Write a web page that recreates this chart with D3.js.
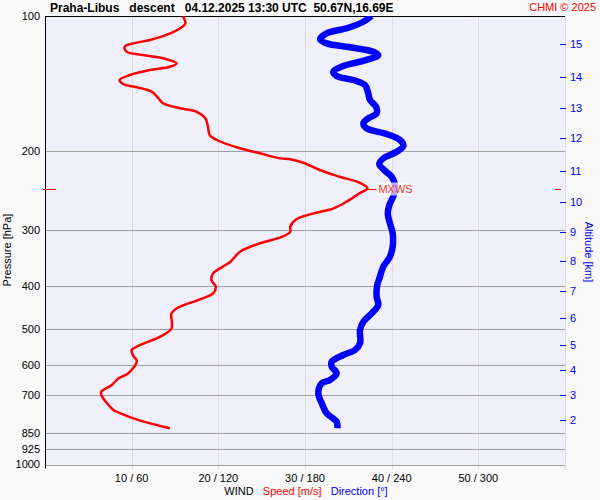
<!DOCTYPE html>
<html>
<head>
<meta charset="utf-8">
<script src="https://cdn.jsdelivr.net/npm/d3@7"></script>
<style>
  body { margin: 0; background: #f9f9f9; }
  svg { display: block; font-family: "Liberation Sans", Arial, sans-serif; }
</style>
</head>
<body>
<div id="chart"></div>
<script>
// pressure levels for the left axis and grid
const pressureTicks = [100, 200, 300, 400, 500, 600, 700, 850, 925, 1000]
// altitude ticks (km) and the pressure at which each sits
const altKm = [15, 14, 13, 12, 11, 10, 9, 8, 7, 6, 5, 4, 3, 2]
const altP = [115.6, 136.6, 160.1, 187.4, 221.6, 259.4, 302.7, 351.3, 409.8, 470.7, 541.5, 615.6, 699.8, 795.8]
// bottom ticks: speed [m/s] / direction [deg]
const speedTicks = [10, 20, 30, 40, 50]
const dirTicks = [60, 120, 180, 240, 300]

// wind speed profile
const speedP = [100, 103.8, 106.5, 110.2, 113.1, 115.1, 117.1, 120.1, 122.2, 124.2, 127.5, 129.8, 132.0, 135.4, 138.9, 141.8, 144.2, 147.5, 152.6, 156.5, 160.6, 163.5, 169.1, 176.5, 184.2, 189.0, 197.2, 202.4, 207.7, 208.7, 212.4, 220.5, 228.2, 235.4, 242.2, 248.5, 259.4, 268.4, 275.4, 284.0, 295.0, 302.7, 310.5, 321.2, 335.4, 353.1, 374.8, 387.9, 401.4, 415.2, 428.2, 448.5, 460.2, 496.9, 518.8, 541.4, 555.5, 572.9, 587.8, 626.2, 642.5, 664.9, 688.2, 699.9, 755.8, 766.0, 798.5, 830.3]
const speedV = [15.9, 16.2, 15.6, 14.0, 12.1, 10.2, 9.2, 9.4, 11.3, 13.6, 15.2, 14.4, 12.1, 9.8, 8.6, 9.0, 10.6, 12.3, 13.1, 13.6, 15.6, 17.5, 18.5, 18.8, 19.0, 19.8, 22.5, 24.8, 27.1, 28.3, 29.8, 31.7, 34.0, 36.3, 37.2, 36.3, 34.8, 33.3, 31.0, 29.0, 28.3, 28.3, 27.4, 24.8, 22.5, 21.4, 19.4, 19.2, 19.7, 19.4, 17.9, 15.2, 14.6, 14.6, 13.3, 11.0, 10.0, 10.2, 10.6, 9.6, 8.5, 7.7, 6.5, 6.5, 7.9, 8.5, 11.0, 14.4]

// wind direction profile
const dirP = [100, 103.0, 106.5, 109.3, 112.7, 115.1, 117.4, 120.1, 122.2, 125.3, 129.3, 133.1, 136.1, 138.9, 142.5, 148.7, 153.9, 159.3, 164.8, 169.1, 173.5, 178.0, 183.3, 189.0, 194.9, 200.7, 207.7, 213.8, 219.7, 228.2, 238.2, 250.6, 264.0, 275.4, 289.9, 305.2, 326.8, 344.2, 362.2, 381.4, 398.0, 422.6, 440.9, 460.2, 480.4, 501.3, 536.7, 555.5, 570.0, 589.9, 605.4, 626.2, 648.2, 659.1, 693.8, 730.5, 768.8, 802.6, 830.3]
const dirV = [226.0, 220.4, 208.9, 195.0, 190.4, 195.0, 211.2, 227.3, 230.7, 222.7, 206.5, 199.6, 201.9, 213.4, 221.5, 223.8, 225.0, 229.2, 229.6, 223.8, 220.4, 222.7, 236.6, 245.8, 248.1, 243.5, 234.2, 231.4, 234.2, 240.0, 242.3, 241.5, 238.4, 237.3, 238.8, 240.7, 240.7, 238.8, 234.2, 231.9, 230.0, 229.6, 230.7, 226.2, 220.4, 218.1, 218.1, 214.6, 206.5, 198.5, 198.5, 201.9, 197.3, 191.6, 189.2, 191.6, 195.0, 201.9, 202.4]

// max wind
const mxwsP = 242.5
const mxwsSpeed = 37.2

const width = 600, height = 500
const mLeft = 45, mRight = 565, mTop = 16, mBottom = 464.5

const svg = d3.select('#chart').append('svg')
    .attr('width', width)
    .attr('height', height)

const y = d3.scaleLog().domain([100, 1000]).range([mTop, mBottom])
const xs = d3.scaleLinear().domain([0, 60]).range([mLeft, mRight])
const xd = d3.scaleLinear().domain([0, 360]).range([mLeft, mRight])

svg.append('rect')
    .attr('x', mLeft).attr('y', mTop)
    .attr('width', mRight - mLeft).attr('height', mBottom - mTop)
    .attr('fill', '#f0f0fc')

// vertical grid
svg.append('g')
    .selectAll('line')
    .data(speedTicks)
    .join('line')
    .attr('x1', d => Math.round(xs(d)) + 0.5).attr('x2', d => Math.round(xs(d)) + 0.5)
    .attr('y1', mTop).attr('y2', mBottom + 5)
    .attr('stroke', '#dcdcdc')
svg.append('line')
    .attr('x1', mRight + 0.5).attr('x2', mRight + 0.5)
    .attr('y1', mTop).attr('y2', mBottom + 5)
    .attr('stroke', '#dcdcdc')

// horizontal grid
svg.append('g')
    .selectAll('line')
    .data(pressureTicks.slice(1))
    .join('line')
    .attr('x1', mLeft).attr('x2', mRight)
    .attr('y1', d => Math.round(y(d)) + 0.5).attr('y2', d => Math.round(y(d)) + 0.5)
    .attr('stroke', '#a0a0a0')

// frame
svg.append('line')
    .attr('x1', mLeft).attr('x2', mRight)
    .attr('y1', mTop + 0.5).attr('y2', mTop + 0.5)
    .attr('stroke', '#000')
svg.append('line')
    .attr('x1', mLeft + 0.5).attr('x2', mLeft + 0.5)
    .attr('y1', mTop).attr('y2', mBottom + 4)
    .attr('stroke', '#000')

// left labels
svg.append('g')
    .attr('font-size', 11)
    .attr('text-anchor', 'end')
    .selectAll('text')
    .data(pressureTicks)
    .join('text')
    .attr('x', 40)
    .attr('y', d => y(d))
    .attr('dy', '0.35em')
    .attr('fill', '#000')
    .text(d => d)

// bottom labels
svg.append('g')
    .attr('font-size', 11)
    .attr('text-anchor', 'middle')
    .selectAll('text')
    .data(speedTicks)
    .join('text')
    .attr('x', d => xs(d))
    .attr('y', 478)
    .attr('dy', '0.35em')
    .text((d, i) => `${d} / ${dirTicks[i]}`)

// altitude axis
const alt = svg.append('g')
alt.selectAll('line')
    .data(altP)
    .join('line')
    .attr('x1', mRight - 5).attr('x2', mRight + 1)
    .attr('y1', d => Math.round(y(d)) + 0.5).attr('y2', d => Math.round(y(d)) + 0.5)
    .attr('stroke', '#0000ff')
alt.selectAll('text')
    .data(altP)
    .join('text')
    .attr('x', 570)
    .attr('y', d => y(d))
    .attr('dy', '0.35em')
    .attr('font-size', 11)
    .attr('fill', '#0000ff')
    .text((d, i) => altKm[i])

// axis titles
svg.append('text')
    .attr('transform', `translate(11,250) rotate(-90)`)
    .attr('text-anchor', 'middle')
    .attr('font-size', 11)
    .text('Pressure [hPa]')
svg.append('text')
    .attr('transform', `translate(585,252) rotate(90)`)
    .attr('text-anchor', 'middle')
    .attr('font-size', 11)
    .attr('fill', '#0000ff')
    .text('Altitude [km]')

const legend = svg.append('text')
    .attr('x', 306)
    .attr('y', 491)
    .attr('dy', '0.35em')
    .attr('text-anchor', 'middle')
    .attr('font-size', 11)
    .style('white-space', 'pre')
legend.append('tspan').attr('fill', '#000').text('WIND   ')
legend.append('tspan').attr('fill', '#ff0000').text('Speed [m/s]   ')
legend.append('tspan').attr('fill', '#0000ff').text('Direction [°]')

// title
svg.append('text')
    .attr('x', 50)
    .attr('y', 12)
    .attr('font-size', 12)
    .attr('font-weight', 'bold')
    .style('white-space', 'pre')
    .text('Praha-Libus   descent   04.12.2025 13:30 UTC  50.67N,16.69E')
svg.append('text')
    .attr('x', 596)
    .attr('y', 11)
    .attr('text-anchor', 'end')
    .attr('font-size', 11)
    .attr('fill', '#ff0000')
    .text('CHMI © 2025')

// profiles
const clip = svg.append('clipPath').attr('id', 'plotclip')
clip.append('rect').attr('x', mLeft).attr('y', mTop).attr('width', mRight - mLeft).attr('height', mBottom - mTop)

const dirLine = d3.line()
    .x(i => xd(dirV[i]))
    .y(i => y(dirP[i]))
    .curve(d3.curveCatmullRom)
svg.append('path')
    .attr('clip-path', 'url(#plotclip)')
    .attr('d', dirLine(d3.range(dirP.length)))
    .attr('fill', 'none')
    .attr('stroke', '#0000ff')
    .attr('stroke-width', 6.5)

const speedLine = d3.line()
    .x(i => xs(speedV[i]))
    .y(i => y(speedP[i]))
    .curve(d3.curveCatmullRom)
svg.append('path')
    .attr('clip-path', 'url(#plotclip)')
    .attr('d', speedLine(d3.range(speedP.length)))
    .attr('fill', 'none')
    .attr('stroke', '#ff0000')
    .attr('stroke-width', 2.5)

// max wind marker
const my = Math.round(y(mxwsP)) + 0.5
svg.append('line')
    .attr('x1', 43).attr('x2', 56)
    .attr('y1', my).attr('y2', my)
    .attr('stroke', '#ff0000')
svg.append('line')
    .attr('x1', mRight - 10).attr('x2', mRight - 4)
    .attr('y1', my).attr('y2', my)
    .attr('stroke', '#ff0000')
svg.append('line')
    .attr('x1', xs(mxwsSpeed)).attr('x2', xs(mxwsSpeed) + 9)
    .attr('y1', my).attr('y2', my)
    .attr('stroke', '#ff0000')
svg.append('rect')
    .attr('x', xs(mxwsSpeed) + 10).attr('y', my - 7)
    .attr('width', 31).attr('height', 13)
    .attr('fill', '#fff')
    .attr('fill-opacity', 0.7)
svg.append('text')
    .attr('x', xs(mxwsSpeed) + 11)
    .attr('y', my)
    .attr('dy', '0.35em')
    .attr('font-size', 11)
    .attr('fill', '#ff3333')
    .text('MXWS')
</script>
</body>
</html>
